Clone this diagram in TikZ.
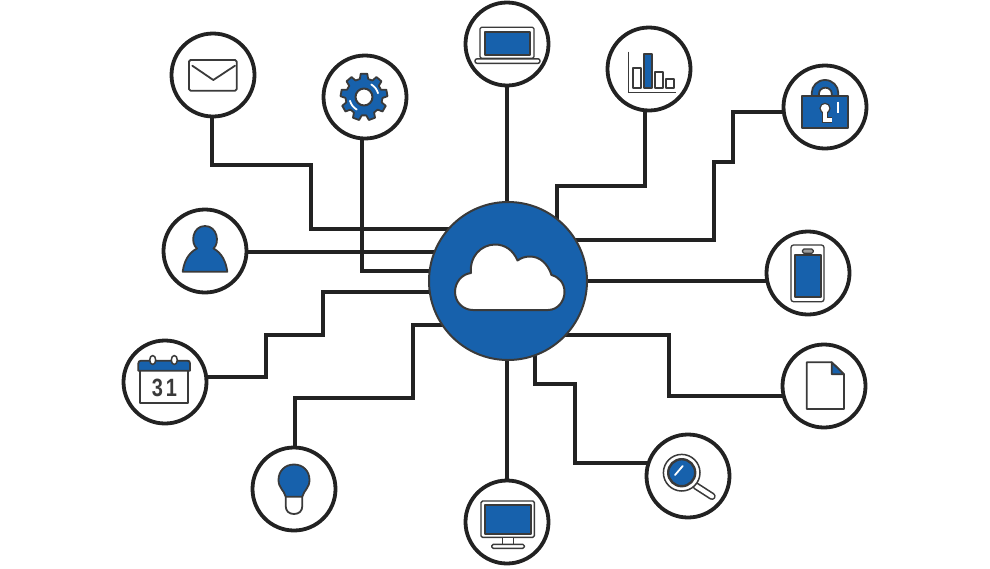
\documentclass[tikz,border=0pt]{standalone}
\usepackage{fontspec}
\setmainfont{Liberation Sans}
\usetikzlibrary{backgrounds}
\definecolor{iblue}{HTML}{1761AC}
\definecolor{ink}{HTML}{222222}
\definecolor{iline}{HTML}{3A3A3A}
\tikzset{
  ring/.style={circle,draw=ink,line width=3.8pt,fill=white,inner sep=0pt,minimum size=83pt},
  hub/.style={circle,draw=iline,line width=2pt,fill=iblue,inner sep=0pt,minimum size=158pt},
  wire/.style={draw=ink,line width=3.8pt,line join=miter},
  ic/.style={draw=iline,line width=1.8pt,line join=round,fill=white},
  icb/.style={draw=iline,line width=1.8pt,line join=round,fill=iblue},
  glint/.style={draw=white,line width=1.8pt,line cap=round},
}
\begin{document}
\begin{tikzpicture}[x=1pt,y=-1pt]
\useasboundingbox (0,0) rectangle (990,568);
\node[hub] (cloud) at (508,281) {};
\node[ring] (mail) at (213,75) {};
\node[ring] (gear) at (365,97) {};
\node[ring] (laptop) at (507,44) {};
\node[ring] (chart) at (649,69) {};
\node[ring] (lock) at (825,107) {};
\node[ring] (phone) at (808,273) {};
\node[ring] (doc) at (824,386) {};
\node[ring] (lens) at (688,476) {};
\node[ring] (monitor) at (507,522) {};
\node[ring] (bulb) at (294,489) {};
\node[ring] (calendar) at (165,382) {};
\node[ring] (user) at (205,251) {};
\begin{scope}[on background layer]
\draw[wire] ([xshift=-1pt]mail.center) |- (311,165) |- ([yshift=52pt]cloud.center);
\draw[wire] ([xshift=-3pt]gear.center) |- ([yshift=10pt]cloud.center);
\draw[wire] ([yshift=-1pt]user.center) -- ([yshift=29pt]cloud.center);
\draw[wire] ([yshift=5pt]calendar.center) -| (266,335) -| (323,292) -- ([yshift=-11pt]cloud.center);
\draw[wire] ([xshift=1pt]bulb.center) |- (413,398) |- ([yshift=-44pt]cloud.center);
\draw[wire] (monitor.center) -- ([xshift=-1pt]cloud.center);
\draw[wire] ([yshift=13pt]lens.center) -| (575,384) -| ([xshift=27pt]cloud.center);
\draw[wire] ([yshift=-10pt]doc.center) -| (669,335) -- ([yshift=-54pt]cloud.center);
\draw[wire] ([yshift=-8pt]phone.center) -- (cloud.center);
\draw[wire] ([yshift=-5pt]lock.center) -| (733,162) -| (714,240) -- ([yshift=41pt]cloud.center);
\draw[wire] ([xshift=-4pt]chart.center) |- (557,186) -- ([xshift=49pt]cloud.center);
\draw[wire] (laptop.center) -- ([xshift=-1pt]cloud.center);
\end{scope}
% cloud
\draw[ic,line width=2pt] (473,310) -- (548,310)
  .. controls (558,310) and (564.5,301) .. (564.5,292)
  .. controls (564.5,283) and (559,277) .. (551.5,275)
  .. controls (548,264) and (540,256.5) .. (530,256.5)
  .. controls (525,256.5) and (521,258) .. (517.5,260.5)
  .. controls (513,250) and (505,244.5) .. (495,244.5)
  .. controls (481,244.5) and (469,257) .. (471,273)
  .. controls (462,274) and (455,282) .. (455,292)
  .. controls (455,302) and (463,310) .. (473,310) -- cycle;
% mail
\draw[ic,rounded corners=1.5pt] (189,60) rectangle (236.7,90.7);
\draw[iline,line width=1.8pt,line join=round,line cap=round] (192.3,65.7) -- (213.3,80) -- (235,65.7);
% gear
\begin{scope}[shift={(364,97)}]
\filldraw[icb] (-103:18.5) \foreach \a in {-90,-50,-10,30,70,110,150,190,230}{ -- (\a-13:18.5) -- (\a-8:23.5) -- (\a+8:23.5) -- (\a+13:18.5)} -- cycle;
\draw[ic,line width=2pt] (0,0) circle (8.5);
\draw[glint] (-60:14.5) arc[start angle=-60,end angle=-15,radius=14.5];
\draw[glint] (120:14.5) arc[start angle=120,end angle=165,radius=14.5];
\end{scope}
% laptop
\draw[ic,line width=1.2pt,rounded corners=1.5pt] (480,27.3) rectangle (534,58.3);
\draw[icb,line width=2.2pt] (485,31.7) rectangle (530,55);
\draw[ic,line width=1.4pt,rounded corners=2pt] (475,58.8) rectangle (540,63.3);
% chart
\draw[iline,line width=1.5pt] (628.3,51.7) -- (628.3,92.3) -- (675.7,92.3);
\draw[ic] (633.3,68.3) rectangle (641,88.3);
\draw[icb] (644,54) rectangle (651.7,88.3);
\draw[ic] (655,72.3) rectangle (663.3,88.3);
\draw[ic] (666,79.3) rectangle (674,88.3);
% lock
\draw[icb] (811.7,97) -- (811.7,93) arc[start angle=180,end angle=360,x radius=13.3,y radius=13] -- (838.3,97);
\draw[ic] (819,96.7) -- (819,93.5) arc[start angle=180,end angle=360,x radius=6.35,y radius=5.8] -- (831.7,96.7) -- cycle;
\draw[icb] (802.3,96.3) rectangle (848.3,127.7);
\draw[iline,line width=6.5pt,line join=miter] (825,108) -- (825,120) -- (832,120);
\draw[iline,fill=white,line width=1.2pt] (825,108.3) circle (5);
\draw[white,line width=3.8pt,line join=miter] (825,110) -- (825,120) -- (831.5,120);
\draw[glint,line cap=butt] (838.3,101.7) -- (838.3,112.7);
% phone
\draw[ic,line width=1.3pt,rounded corners=2.5pt] (791,245) rectangle (824,301.7);
\draw[icb] (795,255) rectangle (820.7,297.3);
\draw[iline,fill=iline!50,line width=1.2pt,rounded corners=1.5pt] (802.5,249) rectangle (813.3,253.3);
% document
\draw[ic] (806.7,362.3) -- (831.7,362.3) -- (844,374.3) -- (844,409) -- (806.7,409) -- cycle;
\draw[icb] (831.7,362.3) -- (844,374.3) -- (831.7,374.3) -- cycle;
% magnifier
\draw[iline,line width=7.5pt,line cap=round] (696,486) -- (712,496.3);
\draw[white,line width=4.2pt,line cap=round] (696,486) -- (712,496.3);
\draw[ic,line width=1.5pt] (681.7,472.7) circle (18.3);
\draw[icb,line width=2.4pt] (681.7,472.7) circle (13.5);
\draw[glint] (675,475) -- (682.7,466);
% monitor
\draw[ic,line width=1.4pt,rounded corners=1.5pt] (481,501) rectangle (534.3,537.3);
\draw[icb,line width=2.2pt] (484.7,505) rectangle (530.7,534);
\draw[ic,line width=1.4pt] (502.3,537.3) rectangle (513.3,544.3);
\draw[ic,line width=1.4pt,rounded corners=1.5pt] (491.7,544.3) rectangle (524.3,548.3);
% bulb
\draw[ic] (285.7,497) -- (285.7,506) .. controls (285.7,511) and (289,514) .. (294,514) .. controls (299,514) and (302.3,511) .. (302.3,506) -- (302.3,497);
\draw[icb] (285.7,496.7) -- (302.3,496.7) .. controls (304,490) and (309.5,488) .. (309.5,480)
  .. controls (309.5,471) and (303,464.5) .. (294,464.5)
  .. controls (285,464.5) and (278.5,471) .. (278.5,480)
  .. controls (278.5,488) and (284,490) .. (285.7,496.7) -- cycle;
% calendar
\draw[ic] (140,370) rectangle (188.3,403.3);
\draw[icb] (138.3,370.7) -- (138.3,363.5) .. controls (138.3,361.5) and (139.5,360.7) .. (141,360.7) -- (187.5,360.7) .. controls (189,360.7) and (190,361.5) .. (190,363.5) -- (190,370.7) -- cycle;
\draw[ic,line width=1.5pt] (152.7,360) ellipse [x radius=3,y radius=4.5];
\draw[ic,line width=1.5pt] (174.3,360) ellipse [x radius=3,y radius=4.5];
\node[font=\bfseries\fontsize{25}{25}\selectfont\addfontfeature{LetterSpace=14},text=iline,inner sep=0pt,xscale=.8] (calnum) at (164.5,388.3) {31};
% user
\draw[icb] (182.7,271.7) .. controls (184,262) and (188,253) .. (197,248.5)
  .. controls (190,243) and (192.5,226) .. (205,226)
  .. controls (217.5,226) and (220,243) .. (213.5,248.5)
  .. controls (222,253) and (226,262) .. (227.3,271.7) -- cycle;
\end{tikzpicture}
\end{document}
